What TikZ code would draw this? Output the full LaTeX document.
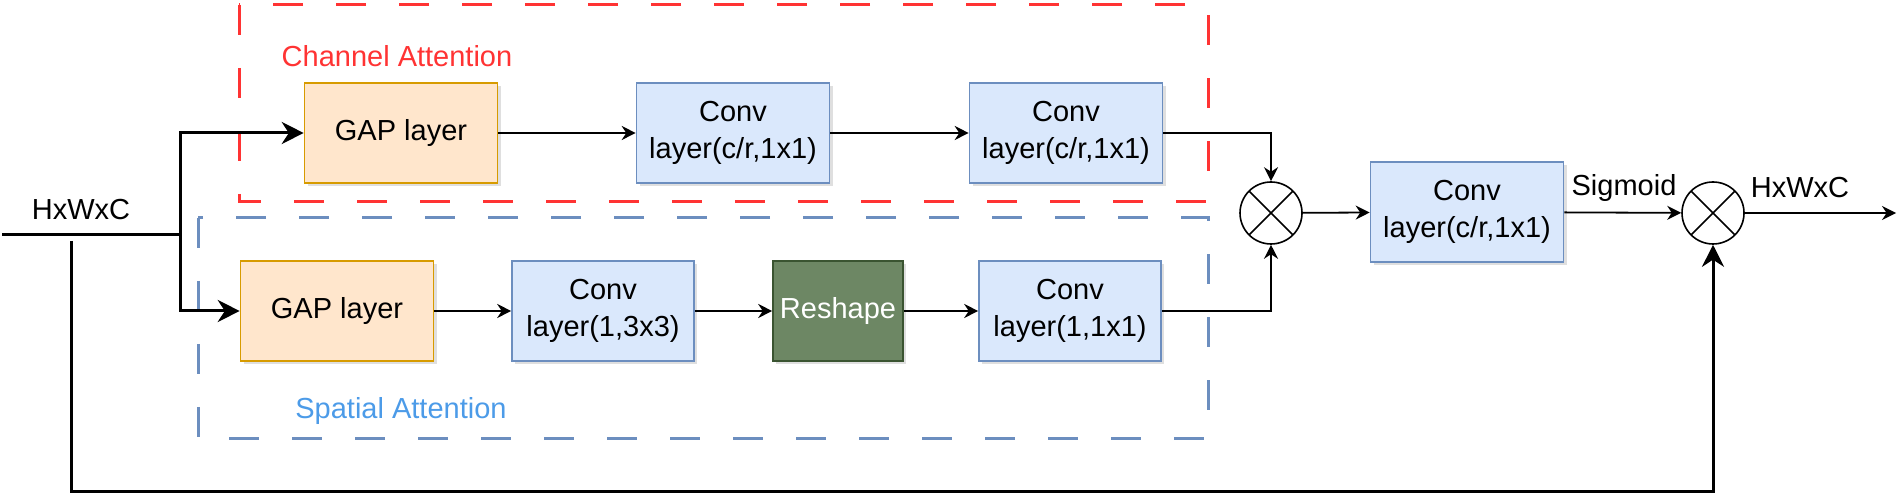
\documentclass[tikz,border=0pt]{standalone}
\usepackage{fontspec}
\setmainfont{Liberation Sans}
\usepackage{tikz}
\usetikzlibrary{%
	arrows.meta,%
	positioning,%
	shadows,%
	calc
}
\definecolor{gapfill}{HTML}{FFE6CC}
\definecolor{gapdraw}{HTML}{D79B00}
\definecolor{convfill}{HTML}{DAE8FC}
\definecolor{convdraw}{HTML}{6C8EBF}
\definecolor{reshfill}{HTML}{6D8764}
\definecolor{reshdraw}{HTML}{3A5431}
\definecolor{chanred}{HTML}{FF3333}
\definecolor{spatblue}{HTML}{6C8EBF}
\definecolor{spattext}{HTML}{4C9BE8}
\newcommand{\boxfont}{\fontsize{14.5}{18.5}\selectfont}
\tikzstyle{block}=[rectangle, draw, line width=0.8pt, minimum height=50pt, align=center, font=\boxfont, drop shadow={shadow xshift=1.5pt, shadow yshift=-1.5pt, opacity=0.25}]
\tikzstyle{gapbox}=[block, fill=gapfill, draw=gapdraw, minimum width=96.5pt]
\tikzstyle{convbox}=[block, fill=convfill, draw=convdraw]
\tikzstyle{reshapebox}=[block, fill=reshfill, draw=reshdraw, text=white, minimum width=65pt]
\tikzstyle{mult}=[circle, draw, line width=0.8pt, minimum size=31pt, inner sep=0pt,
	path picture={\draw[line width=0.8pt] (path picture bounding box.south west) -- (path picture bounding box.north east)
		(path picture bounding box.north west) -- (path picture bounding box.south east);}]
\tikzstyle{txt}=[font=\boxfont, inner sep=0pt]
\tikzstyle{line}=[draw, line width=0.9pt, -{Stealth[length=7pt, width=7pt]}]
\tikzstyle{thickline}=[draw, line width=1.5pt]
\tikzstyle{thickarrow}=[thickline, -{Stealth[length=11pt, width=11pt]}]
\tikzstyle{frame}=[line width=1.5pt, dash pattern=on 15pt off 16.5pt]

\begin{document}
\begin{tikzpicture}[x=0.5pt, y=-0.5pt]
		\useasboundingbox (0,0) rectangle (1900,501);
		
		% Attention frames
		\draw[frame, chanred] (239,5) rectangle (1208,202);
		\draw[frame, spatblue] (198,218) rectangle (1208,439);
		\node[txt, text=chanred] (chantxt) at (397,56) {Channel Attention};
		\node[txt, text=spattext] (spattxt) at (401,411) {Spatial Attention};
		
		% First we draw the blocks
		\foreach \pos/\name in {{(401,133)/gapa}, {(337,311)/gapb}}
		\node[gapbox] (\name) at \pos {GAP layer};
		
		\foreach \pos/\name/\bw/\txt in {
			{(733,133)/conva/96.5pt/{Conv\\layer(c/r,1x1)}},
			{(1066,133)/convb/96.5pt/{Conv\\layer(c/r,1x1)}},
			{(603,311)/convc/91pt/{Conv\\layer(1,3x3)}},
			{(1070,311)/convd/91pt/{Conv\\layer(1,1x1)}},
			{(1467,212)/conve/96.5pt/{Conv\\layer(c/r,1x1)}}}
		\node[convbox, minimum width=\bw] (\name) at \pos {\txt};
		
		\node[reshapebox] (reshape) at (838,311) {Reshape};
		
		% Then the products
		\foreach \pos/\name in {{(1271,213)/multa}, {(1713,213)/multb}}
		\node[mult] (\name) at \pos {};
		
		% Input and its branches
		\node[txt] (intxt) at (81,210) {HxWxC};
		\coordinate (inp) at (2,235);
		\coordinate (split) at (180,235);
		\coordinate (fbtop) at (71,241);
		\coordinate (fbcorner) at (71,492);
		\draw[thickline] (inp) -- (split);
		\path[thickarrow] (split) |- (gapa);
		\path[thickarrow] (split) |- (gapb);
		\path[thickarrow] (fbtop) -- (fbcorner) -| (multb);
		
		% Connect the blocks
		\foreach \source/ \dest in {gapa/conva, conva/convb, gapb/convc, convc/reshape, reshape/convd, multa/conve}
		\path[line] (\source) -- (\dest);
		
		\foreach \source/ \dest in {convb/multa, convd/multa}
		\path[line] (\source) -| (\dest);
		
		% Output
		\coordinate (outp) at (1896,213);
		\path[line] (conve) -- (multb);
		\path[line] (multb) -- (outp);
		\node[txt] (sigtxt) at (1624,188) {Sigmoid};
		\node[txt] (outtxt) at (1800,188) {HxWxC};
		
\end{tikzpicture}
\end{document}
